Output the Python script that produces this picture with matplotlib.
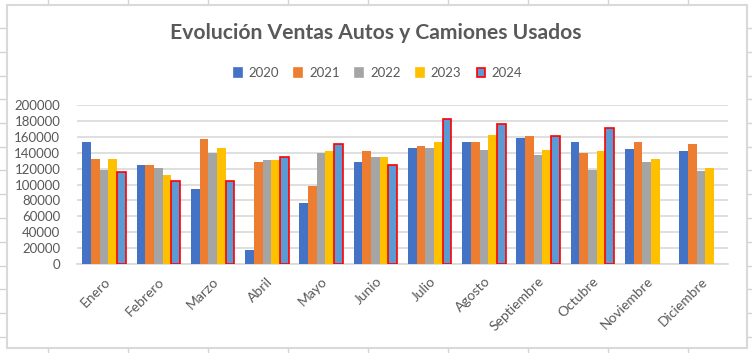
"""Evolución ventas autos y camiones usados, barras agrupadas por mes (2020-2024)."""

import matplotlib

matplotlib.use("Agg")
import matplotlib.pyplot as plt
import numpy as np
from matplotlib.lines import Line2D
from matplotlib.patches import Rectangle

MONTHS = ["Enero", "Febrero", "Marzo", "Abril", "Mayo", "Junio", "Julio",
          "Agosto", "Septiembre", "Octubre", "Noviembre", "Diciembre"]
YEARS = ["2020", "2021", "2022", "2023", "2024"]

VENTAS_2020 = [153000, 124000, 94000, 17600, 77000, 128000, 146000, 154000, 159000, 154000, 145000, 142000]
VENTAS_2021 = [132000, 124000, 157000, 128000, 98000, 142000, 148000, 153000, 160500, 140000, 153000, 151000]
VENTAS_2022 = [118700, 121000, 140000, 131000, 139000, 134000, 146000, 143000, 137000, 118000, 128000, 116500]
VENTAS_2023 = [132000, 112000, 146000, 131000, 142000, 134000, 154000, 162000, 143000, 142000, 132000, 121000]
VENTAS_2024 = [115700, 105000, 105000, 135000, 150500, 124000, 183000, 176000, 161000, 171000, None, None]

COLORS = ["#4472C4", "#ED7D31", "#A5A5A5", "#FFC000", "#5B9BD5"]
TEXT = "#595959"
GRID = "#D9D9D9"
SHEET = "#D4D4D4"
FONT = "Lato"

W, H = 752, 353


def fx(x):
    return x / W


def fy(y):
    return 1 - y / H


fig = plt.figure(figsize=(W / 100, H / 100), dpi=100)
fig.patch.set_facecolor("white")

# spreadsheet grid behind the chart
for cx in range(48, W, 80):
    fig.add_artist(Line2D([fx(cx), fx(cx)], [0, 1], color=SHEET, lw=1, zorder=0))
for k in range(15):
    ry = 28 + k * 23.75
    fig.add_artist(Line2D([0, 1], [fy(ry), fy(ry)], color=SHEET, lw=1, zorder=0))

# chart area
fig.add_artist(Rectangle((fx(7), fy(348)), fx(747) - fx(7), fy(5) - fy(348),
                         facecolor="white", edgecolor=GRID, lw=1.5, zorder=1))

ax = fig.add_axes([fx(77), fy(264), fx(728) - fx(77), fy(105) - fy(264)], zorder=2)
ax.set_facecolor("none")

series = [VENTAS_2020, VENTAS_2021, VENTAS_2022, VENTAS_2023, VENTAS_2024]
x = np.arange(len(MONTHS))
width = 0.16
for i, (vals, color) in enumerate(zip(series, COLORS)):
    idx = [j for j, v in enumerate(vals) if v is not None]
    heights = [vals[j] for j in idx]
    pos = x[idx] + (i - 2) * width
    if YEARS[i] == "2024":
        ax.bar(pos, heights, width, color=color, edgecolor="#FF0000", lw=1.2, zorder=3)
    else:
        ax.bar(pos, heights, width, color=color, lw=0, zorder=3)

ax.set_xlim(-0.5, len(MONTHS) - 0.5)
ax.set_ylim(0, 200000)
ax.set_yticks(range(0, 200001, 20000))
ax.yaxis.grid(True, color=GRID, lw=1.2, zorder=0)
ax.set_axisbelow(True)
for s in ("top", "right", "left"):
    ax.spines[s].set_visible(False)
ax.spines["bottom"].set_color(GRID)
ax.spines["bottom"].set_linewidth(1.2)
ax.tick_params(length=0, colors=TEXT)
ax.tick_params(axis="y", pad=12)
ax.set_xticks(x)
ax.set_xticklabels(MONTHS, rotation=45, ha="right", rotation_mode="anchor",
                   fontsize=10, color=TEXT, family=FONT)
for lab in ax.get_yticklabels():
    lab.set_fontsize(9.5)
    lab.set_family(FONT)
    lab.set_color(TEXT)
ax.tick_params(axis="x", pad=8)

fig.text(fx(376), fy(33), "Evolución Ventas Autos y Camiones Usados", ha="center",
         va="center", fontsize=15.2, fontweight="bold", color=TEXT, family=FONT)

handles = []
for i, color in enumerate(COLORS):
    ec = "#FF0000" if YEARS[i] == "2024" else color
    handles.append(Rectangle((0, 0), 1, 1, facecolor=color, edgecolor=ec, lw=1.2))
leg = fig.legend(handles, YEARS, loc="center", bbox_to_anchor=(fx(378), fy(73)),
                 ncol=5, frameon=False, handlelength=0.6, handleheight=0.6,
                 handletextpad=0.5, columnspacing=1.2,
                 prop={"family": FONT, "size": 9.5})
for t in leg.get_texts():
    t.set_color(TEXT)

fig.savefig("out.png", dpi=100)
